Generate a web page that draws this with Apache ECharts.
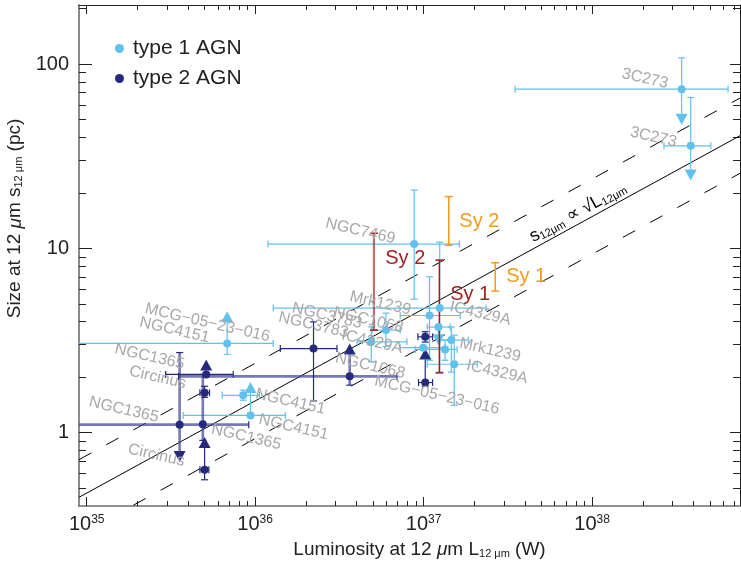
<!DOCTYPE html>
<html>
<head>
<meta charset="utf-8">
<script src="https://cdn.jsdelivr.net/npm/echarts@6/dist/echarts.min.js"></script>
<style>
  html, body { margin: 0; padding: 0; background: #fff; }
  #chart { width: 741px; height: 569px; }
</style>
</head>
<body>
<div id="chart"></div>
<script>
const FONT = "'Liberation Sans', Arial, Helvetica, sans-serif";
const lg = Math.log10;

// Axis extents (W, pc) and labelled decades
const lumRange = [9.0e34, 7.55e38];
const sizeRange = [0.4, 209];
const lumDecades = [1e35, 1e36, 1e37, 1e38];
const sizeDecades = [1, 10, 100];

// Rows: [L12 (W), s12 (pc), L low, L high, s low, s high, limit]
// limit 'down' -> s low is the tip of an upper-limit arrow; 'up' -> s high is the tip of a lower-limit arrow
const type1 = [
  [3.40e38, 73.0, 3.49e37, 6.41e38, 46.8, 108, 'down'],
  [3.85e38, 36.0, 2.67e38, 5.07e38, 23.3, 65.8, 'down'],
  [8.79e36, 10.55, 1.19e36, 1.63e37, 5.30, 20.7, null],
  [1.246e37, 4.74, 1.28e36, 2.35e37, 2.13, 10.8, null],
  [1.084e37, 4.32, 7.26e36, 1.65e37, 2.47, 7.01, null],
  [5.98e36, 3.60, 4.95e36, 7.26e36, 2.94, 4.45, null],
  [4.89e36, 3.11, 4.03e36, 7.96e36, 2.42, 3.75, null],
  [1.225e37, 3.74, 1.05e37, 1.44e37, 2.98, null, 'down'],
  [1.46e37, 3.18, 1.25e37, 1.84e37, 2.13, 3.74, null],
  [1.34e37, 2.83, 8.9e36, 1.58e37, 2.47, 3.18, null],
  [1.52e37, 2.35, 1.05e37, 2.08e37, 1.41, 3.38, null],
  [9.95e36, 2.89, 7.26e36, 1.34e37, null, null, null],
  [6.82e35, 3.05, 8.5e34, 1.28e36, 2.66, 4.56, 'up'],
  [8.49e35, 1.595, 6.37e35, 1.06e36, 1.50, 1.70, null],
  [9.38e35, 1.24, 3.74e35, 1.51e36, null, 1.88, 'up']
];
const type2 = [
  [3.56e35, 1.105, 8.5e34, 9.16e35, 0.694, 2.72, 'down'],
  [4.89e35, 1.11, null, null, 0.908, 2.07, null],
  [5.01e35, 1.645, 4.70e35, 5.36e35, 1.555, 1.785, null],
  [5.01e35, 0.629, 4.70e35, 5.31e35, 0.555, 0.946, 'up'],
  [5.12e35, 2.07, 2.94e35, 7.41e35, null, 2.49, 'up'],
  [3.64e36, 2.02, 3.51e35, 6.95e36, 1.81, 3.05, 'up'],
  [2.22e36, 2.86, 1.41e36, 3.06e36, 1.485, 3.99, null],
  [1.022e37, 3.31, 9.25e36, 1.13e37, 3.10, 3.53, null],
  [1.022e37, 1.87, 9.33e36, 1.13e37, 1.785, 2.86, 'up']
];
// rows of type2 drawn with the broad translucent error bars
const type2Broad = [0, 1, 5];

// Expected size ranges for Seyfert types: [L (W), s low, s high]
const syBarsOrange = [[1.41e37, 10.4, 19.1], [2.66e37, 5.86, 8.35]];
const syBarsRed = [[5.07e36, 3.60, 12.07], [1.24e37, 2.11, 8.64]];
const syTextOrange = [['Sy 2', 2.14e37, 13.9], ['Sy 1', 4.06e37, 7.07]];
const syTextRed = [['Sy 2', 7.78e36, 8.86], ['Sy 1', 1.89e37, 5.65]];

// Object names: [name, L anchor, s anchor]
const nameLabels = [
  ['3C273', 2.06e38, 83.2],
  ['3C273', 2.31e38, 40.1],
  ['NGC7469', 4.21e36, 12.4],
  ['Mrk1239', 5.53e36, 5.02],
  ['IC4329A', 2.17e37, 4.43],
  ['NGC3783', 2.67e36, 4.30],
  ['NGC1068', 4.70e36, 4.08],
  ['NGC3783', 2.22e36, 3.83],
  ['IC4329A', 4.94e36, 3.11],
  ['NGC1068', 4.82e36, 2.30],
  ['MCG−05−23−016', 1.20e37, 1.595],
  ['Mrk1239', 2.48e37, 2.80],
  ['IC4329A', 2.73e37, 2.13],
  ['MCG−05−23−016', 5.21e35, 3.94],
  ['NGC4151', 3.32e35, 3.60],
  ['NGC1365', 2.36e35, 2.58],
  ['Circinus', 2.64e35, 1.99],
  ['NGC1365', 1.66e35, 1.33],
  ['NGC4151', 1.62e36, 1.47],
  ['NGC4151', 1.69e36, 1.07],
  ['NGC1365', 8.85e35, 0.946],
  ['Circinus', 2.59e35, 0.753]
];

// s12 ∝ sqrt(L12): size (pc) at 1e37 W, and the factor spanned by the dashed band
const relationNorm = 4.7;
const relationScatter = 1.6;
const relationLabel = [8.24e37, 15.7];

const X0 = lg(lumRange[0]), X1 = lg(lumRange[1]);
const Y0 = lg(sizeRange[0]), Y1 = lg(sizeRange[1]);

const C_T1 = '#62c0ec';
const C_T2 = '#252a7c';
const C_T2_BROAD = 'rgba(60,64,150,0.7)';
const C_ORANGE = '#f39a1a';
const C_RED = '#9f1f1f';
const C_LABEL = '#a8a8a8';

function minorTicks(a, b) {
  const out = [];
  for (let d = Math.floor(a); d <= Math.ceil(b); d++) {
    for (let k = 2; k <= 9; k++) {
      const v = d + lg(k);
      if (v > a && v < b) out.push(v);
    }
  }
  return out;
}

function relationAt(logL, factor) {
  return lg(relationNorm * factor) + 0.5 * (logL - 37);
}

function errorBarSeries(rows, color, broadRows) {
  return {
    type: 'custom',
    clip: true,
    z: 3,
    silent: true,
    data: rows.map(r => [lg(r[0]), lg(r[1])]),
    encode: { x: 0, y: 1 },
    renderItem(params, api) {
      const [L, s, Llo, Lhi, slo, shi, lim] = rows[params.dataIndex];
      const broad = broadRows && broadRows.indexOf(params.dataIndex) >= 0;
      const stroke = broad ? C_T2_BROAD : color;
      const lw = broad ? 2.6 : 1.2;
      const p = api.coord([lg(L), lg(s)]);
      const px = p[0], py = p[1];
      const kids = [];
      const seg = (x1, y1, x2, y2, st, w) => kids.push({
        type: 'line', shape: { x1, y1, x2, y2 }, style: { stroke: st, lineWidth: w }
      });
      const cap = 3.5, tw = 6, th = 11;
      if (Llo != null) {
        const xa = api.coord([lg(Llo), lg(s)])[0];
        const xb = api.coord([lg(Lhi), lg(s)])[0];
        seg(xa, py, xb, py, stroke, lw);
        seg(xa, py - cap, xa, py + cap, color, 1.2);
        seg(xb, py - cap, xb, py + cap, color, 1.2);
      }
      if (shi != null || slo != null) {
        const yt = shi != null ? api.coord([lg(L), lg(shi)])[1] : py;
        const yb = slo != null ? api.coord([lg(L), lg(slo)])[1] : py;
        const top = lim === 'up' ? yt + th : yt;
        const bot = lim === 'down' ? yb - th : yb;
        seg(px, top, px, bot, stroke, lw);
        if (shi != null && lim !== 'up') seg(px - cap, yt, px + cap, yt, color, 1.2);
        if (slo != null && lim !== 'down') seg(px - cap, yb, px + cap, yb, color, 1.2);
        if (lim === 'up') {
          kids.push({ type: 'polygon', shape: { points: [[px, yt], [px - tw, yt + th], [px + tw, yt + th]] }, style: { fill: color } });
        }
        if (lim === 'down') {
          kids.push({ type: 'polygon', shape: { points: [[px, yb], [px - tw, yb - th], [px + tw, yb - th]] }, style: { fill: color } });
        }
      }
      return { type: 'group', children: kids };
    }
  };
}

function rangeBarSeries(rows, color, broadFirst) {
  return {
    type: 'custom',
    clip: true,
    z: 4,
    silent: true,
    data: rows.map(r => [lg(r[0]), lg(r[1]), lg(r[2])]),
    encode: { x: 0, y: [1, 2] },
    renderItem(params, api) {
      const r = rows[params.dataIndex];
      const a = api.coord([lg(r[0]), lg(r[1])]);
      const b = api.coord([lg(r[0]), lg(r[2])]);
      const broad = broadFirst && params.dataIndex === 0;
      const stroke = broad ? 'rgba(160,50,50,0.7)' : color;
      const w = broad ? 2.2 : 1.5;
      const cap = 4;
      return {
        type: 'group',
        children: [
          { type: 'line', shape: { x1: a[0], y1: a[1], x2: b[0], y2: b[1] }, style: { stroke, lineWidth: w } },
          { type: 'line', shape: { x1: a[0] - cap, y1: a[1], x2: a[0] + cap, y2: a[1] }, style: { stroke: color, lineWidth: 1.5 } },
          { type: 'line', shape: { x1: b[0] - cap, y1: b[1], x2: b[0] + cap, y2: b[1] }, style: { stroke: color, lineWidth: 1.5 } }
        ]
      };
    }
  };
}

function textSeries(rows, color, size, angleDeg, z) {
  return {
    type: 'custom',
    z,
    silent: true,
    data: rows.map(r => [lg(r[1]), lg(r[2])]),
    encode: { x: 0, y: 1 },
    renderItem(params, api) {
      const r = rows[params.dataIndex];
      const p = api.coord([lg(r[1]), lg(r[2])]);
      return {
        type: 'text',
        x: p[0], y: p[1],
        rotation: angleDeg * Math.PI / 180,
        style: {
          text: r[0], fill: color, fontSize: size, fontFamily: FONT,
          align: 'center', verticalAlign: 'middle'
        }
      };
    }
  };
}

const relX = [X0, X1];
const relationLines = [
  { factor: 1, type: 'solid' },
  { factor: relationScatter, type: [14, 17] },
  { factor: 1 / relationScatter, type: [14, 17] }
].map(l => ({
  type: 'line',
  silent: true,
  symbol: 'none',
  z: 2,
  clip: true,
  data: relX.map(x => [x, relationAt(x, l.factor)]),
  lineStyle: { color: '#000', width: 1, type: l.type }
}));

const relationText = {
  type: 'custom',
  z: 5,
  silent: true,
  data: [[lg(relationLabel[0]), lg(relationLabel[1])]],
  encode: { x: 0, y: 1 },
  renderItem(params, api) {
    const p = api.coord([lg(relationLabel[0]), lg(relationLabel[1])]);
    const c0 = api.coord([X0, relationAt(X0, 1)]);
    const c1 = api.coord([X1, relationAt(X1, 1)]);
    const ang = Math.atan2(c0[1] - c1[1], c1[0] - c0[0]);
    return {
      type: 'text',
      x: p[0], y: p[1],
      rotation: ang,
      style: {
        text: '{m|s}{s|12μm}{m| ∝ √}{o|L}{s|12μm}',
        align: 'center', verticalAlign: 'middle',
        rich: {
          m: { fontSize: 18, fontFamily: FONT, fill: '#000', color: '#000' },
          o: { fontSize: 18, fontFamily: FONT, color: '#000' },
          s: { fontSize: 11, fontFamily: FONT, color: '#000', verticalAlign: 'bottom', padding: [8, 0, 0, 0] }
        }
      }
    };
  }
};

const scatter = (name, rows, color) => ({
  name,
  type: 'scatter',
  z: 6,
  symbol: 'circle',
  symbolSize: 8,
  silent: true,
  data: rows.map(r => [lg(r[0]), lg(r[1])]),
  itemStyle: { color, opacity: 1 }
});

const lumMajor = lumDecades.map(lg);
const sizeMajor = sizeDecades.map(lg);
const lumMinor = minorTicks(X0, X1);
const sizeMinor = minorTicks(Y0, Y1);

function xAxisDef(position, values, len, opts) {
  return Object.assign({
    type: 'value', position, min: X0, max: X1,
    axisLine: { show: false, onZero: false },
    axisTick: { show: true, inside: true, length: len, customValues: values, lineStyle: { color: '#222', width: 1 } },
    axisLabel: { show: false },
    splitLine: { show: false }
  }, opts || {});
}
function yAxisDef(position, values, len, opts) {
  return Object.assign({
    type: 'value', position, min: Y0, max: Y1,
    axisLine: { show: false, onZero: false },
    axisTick: { show: true, inside: true, length: len, customValues: values, lineStyle: { color: '#222', width: 1 } },
    axisLabel: { show: false },
    splitLine: { show: false }
  }, opts || {});
}

const chart = echarts.init(document.getElementById('chart'), null, { renderer: 'canvas' });

chart.setOption({
  animation: false,
  backgroundColor: '#fff',
  grid: { left: 79, right: 1, top: 5, bottom: 63, containLabel: false, outerBoundsMode: 'none' },
  legend: {
    left: 110, top: 33, orient: 'vertical',
    itemWidth: 9, itemHeight: 9, itemGap: 9,
    icon: 'circle',
    textStyle: { fontSize: 21, fontFamily: FONT, color: '#222', lineHeight: 20, padding: [0, 0, 0, 4] },
    data: ['type 1 AGN', 'type 2 AGN']
  },
  xAxis: [
    xAxisDef('bottom', lumMajor, 9, {
      axisLine: { show: true, onZero: false, lineStyle: { color: '#6e6e6e', width: 1.6 } },
      axisLabel: {
        show: true, customValues: lumMajor, margin: 8,
        formatter: v => '{b|10}{sup|' + Math.round(v) + '}',
        rich: {
          b: { fontSize: 20, fontFamily: FONT, color: '#222' },
          sup: { fontSize: 12, fontFamily: FONT, color: '#222', verticalAlign: 'top' }
        }
      },
      name: '{b|Luminosity at 12 }{i|μ}{b|m L}{s|12 μm}{b| (W)}',
      nameLocation: 'middle', nameGap: 34,
      nameTextStyle: {
        padding: [0, 0, 0, 20],
        rich: {
          b: { fontSize: 19, fontFamily: FONT, color: '#222' },
          i: { fontSize: 19, fontFamily: FONT, color: '#222', fontStyle: 'italic' },
          s: { fontSize: 11, fontFamily: FONT, color: '#222', verticalAlign: 'bottom' }
        }
      }
    }),
    xAxisDef('bottom', lumMinor, 5),
    xAxisDef('top', lumMajor, 9, {
      axisLine: { show: true, onZero: false, lineStyle: { color: '#222', width: 1 } }
    }),
    xAxisDef('top', lumMinor, 5)
  ],
  yAxis: [
    yAxisDef('left', sizeMajor, 13, {
      axisLine: { show: true, onZero: false, lineStyle: { color: '#6e6e6e', width: 1.6 } },
      axisLabel: {
        show: true, customValues: sizeMajor, margin: 10,
        formatter: v => String(Math.round(Math.pow(10, v))),
        fontSize: 20, fontFamily: FONT, color: '#222'
      },
      name: '{b|Size at 12 }{i|μ}{b|m s}{s|12 μm}{b| (pc)}',
      nameLocation: 'middle', nameGap: 50, nameRotate: 90,
      nameTextStyle: {
        padding: [0, 0, 0, 74],
        rich: {
          b: { fontSize: 19, fontFamily: FONT, color: '#222' },
          i: { fontSize: 19, fontFamily: FONT, color: '#222', fontStyle: 'italic' },
          s: { fontSize: 11, fontFamily: FONT, color: '#222', verticalAlign: 'bottom' }
        }
      }
    }),
    yAxisDef('left', sizeMinor, 7),
    yAxisDef('right', sizeMajor, 10, {
      axisLine: { show: true, onZero: false, lineStyle: { color: '#222', width: 1 } }
    }),
    yAxisDef('right', sizeMinor, 7)
  ],
  series: [
    ...relationLines,
    relationText,
    errorBarSeries(type1, C_T1, null),
    errorBarSeries(type2, C_T2, type2Broad),
    rangeBarSeries(syBarsOrange, C_ORANGE, false),
    rangeBarSeries(syBarsRed, C_RED, true),
    scatter('type 1 AGN', type1, C_T1),
    scatter('type 2 AGN', type2, C_T2),
    textSeries(nameLabels, C_LABEL, 16, -13, 7),
    textSeries(syTextOrange, C_ORANGE, 20, 0, 8),
    textSeries(syTextRed, C_RED, 20, 0, 8)
  ]
});
</script>
</body>
</html>
